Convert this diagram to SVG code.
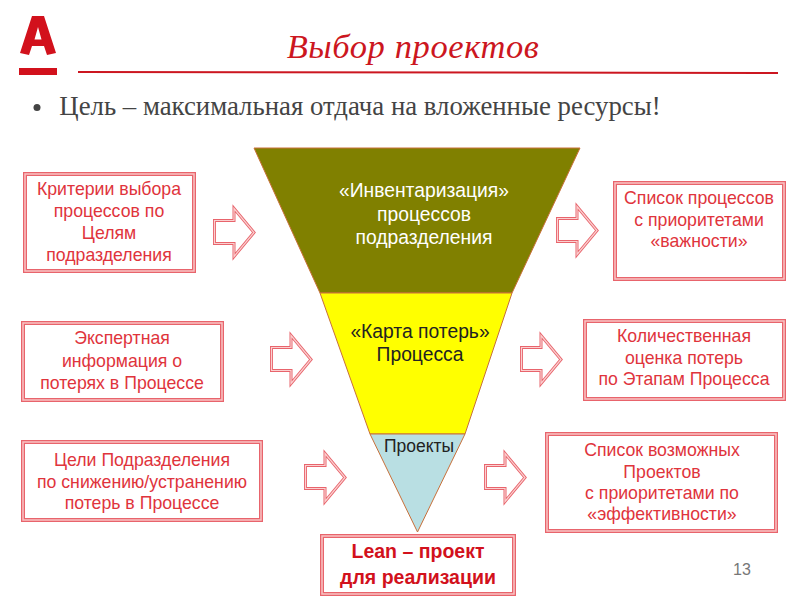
<svg xmlns="http://www.w3.org/2000/svg" width="800" height="600" viewBox="0 0 800 600">
<style>
text{font-family:"Liberation Sans",Arial,sans-serif;text-anchor:middle}
.o{fill:#fff;stroke:#e8646c;stroke-width:4}
.i{fill:none;stroke:#f9c4c4;stroke-width:1.500}
.r{fill:#e0343c;font-size:17.700px}
.a{fill:#fff;stroke:#e8646c;stroke-width:3}
.ai{fill:none;stroke:#fbd0d0;stroke-width:1.200}
.f{stroke:#c8703a;stroke-width:1}
.w{fill:#fff;font-size:19.300px}
.k{fill:#222;font-size:19.300px}
</style>
<defs>
<path id="ar" d="M1.500 14.500H21V2.500L41 26.500L21 50.500V37.500H1.500Z"/>
</defs>
<rect width="800" height="600" fill="#fff"/>
<g id="logo">
<path d="M20 53L32 16H44L56 53L47 55L44 46H32L29 55ZM34.500 39.500H41.500L38 27Z" fill="#d2111c"/>
<rect x="19" y="68" width="38" height="7" fill="#d2111c"/>
</g>
<g id="title">
<text x="413" y="58" font-size="34.500" font-style="italic" letter-spacing=".6" style="font-family:'Liberation Serif',serif" fill="#cc1620">Выбор проектов</text>
<path d="M78 72L778 73" stroke="#cc1620" stroke-width="2" fill="none"/>
</g>
<g id="subtitle">
<circle cx="37" cy="107.500" r="3.500" fill="#444"/>
<text x="360" y="115" font-size="26.800" style="font-family:'Liberation Serif',serif" fill="#444">Цель – максимальная отдача на вложенные ресурсы!</text>
</g>
<g id="funnel-top">
<path class="f" fill="#808000" d="M254 148H580L512 293H320Z"/>
<text class="w" x="424" y="197">«Инвентаризация»</text>
<text class="w" x="424" y="221">процессов</text>
<text class="w" x="424" y="244">подразделения</text>
</g>
<g id="funnel-mid">
<path class="f" fill="#ffff00" d="M320 293H512L465 434H370Z"/>
<text class="k" x="420" y="338">«Карта потерь»</text>
<text class="k" x="420" y="361">Процесса</text>
</g>
<g id="funnel-bottom">
<path class="f" fill="#b9dfe3" d="M370 434H465L417.500 532Z"/>
<text class="k" x="419" y="452" style="font-size:17.500px">Проекты</text>
</g>
<g id="box-criteria">
<rect class="o" x="25" y="174" width="169" height="97"/><rect class="i" x="25" y="174" width="169" height="97"/>
<text class="r" x="109" y="195">Критерии выбора</text><text class="r" x="109" y="217">процессов по</text><text class="r" x="109" y="239">Целям</text><text class="r" x="109" y="261">подразделения</text>
</g>
<g id="box-expert">
<rect class="o" x="23" y="323" width="199" height="77"/><rect class="i" x="23" y="323" width="199" height="77"/>
<text class="r" x="122" y="344">Экспертная</text><text class="r" x="122" y="367">информация о</text><text class="r" x="122" y="389">потерях в Процессе</text>
</g>
<g id="box-goals">
<rect class="o" x="23" y="442" width="238" height="78"/><rect class="i" x="23" y="442" width="238" height="78"/>
<text class="r" x="142" y="466">Цели Подразделения</text><text class="r" x="142" y="488">по снижению/устранению</text><text class="r" x="142" y="509">потерь в Процессе</text>
</g>
<g id="box-list">
<rect class="o" x="615" y="183" width="169" height="96"/><rect class="i" x="615" y="183" width="169" height="96"/>
<text class="r" x="699" y="204">Список процессов</text><text class="r" x="699" y="226">с приоритетами</text><text class="r" x="699" y="247">«важности»</text>
</g>
<g id="box-quant">
<rect class="o" x="585" y="321" width="199" height="78"/><rect class="i" x="585" y="321" width="199" height="78"/>
<text class="r" x="684" y="342">Количественная</text><text class="r" x="684" y="364">оценка потерь</text><text class="r" x="684" y="385">по Этапам Процесса</text>
</g>
<g id="box-projects">
<rect class="o" x="547" y="434" width="229" height="97"/><rect class="i" x="547" y="434" width="229" height="97"/>
<text class="r" x="662" y="456">Список возможных</text><text class="r" x="662" y="478">Проектов</text><text class="r" x="662" y="499">с приоритетами по</text><text class="r" x="662" y="520">«эффективности»</text>
</g>
<g id="box-lean">
<rect class="o" x="322" y="536" width="192" height="58"/><rect class="i" x="322" y="536" width="192" height="58"/>
<text x="418" y="558" font-size="19.500" font-weight="bold" fill="#d2111c">Lean – проект</text><text x="418" y="584" font-size="19.500" font-weight="bold" fill="#d2111c">для реализации</text>
</g>
<g id="connectors">
<use href="#ar" class="a" x="213" y="206"/><use href="#ar" class="ai" x="213" y="206"/>
<use href="#ar" class="a" x="556" y="204"/><use href="#ar" class="ai" x="556" y="204"/>
<use href="#ar" class="a" x="270" y="333"/><use href="#ar" class="ai" x="270" y="333"/>
<use href="#ar" class="a" x="520" y="333"/><use href="#ar" class="ai" x="520" y="333"/>
<use href="#ar" class="a" x="304" y="451"/><use href="#ar" class="ai" x="304" y="451"/>
<use href="#ar" class="a" x="484" y="451"/><use href="#ar" class="ai" x="484" y="451"/>
</g>
<g id="page"><text x="742" y="575" font-size="16" fill="#777">13</text></g>
</svg>
